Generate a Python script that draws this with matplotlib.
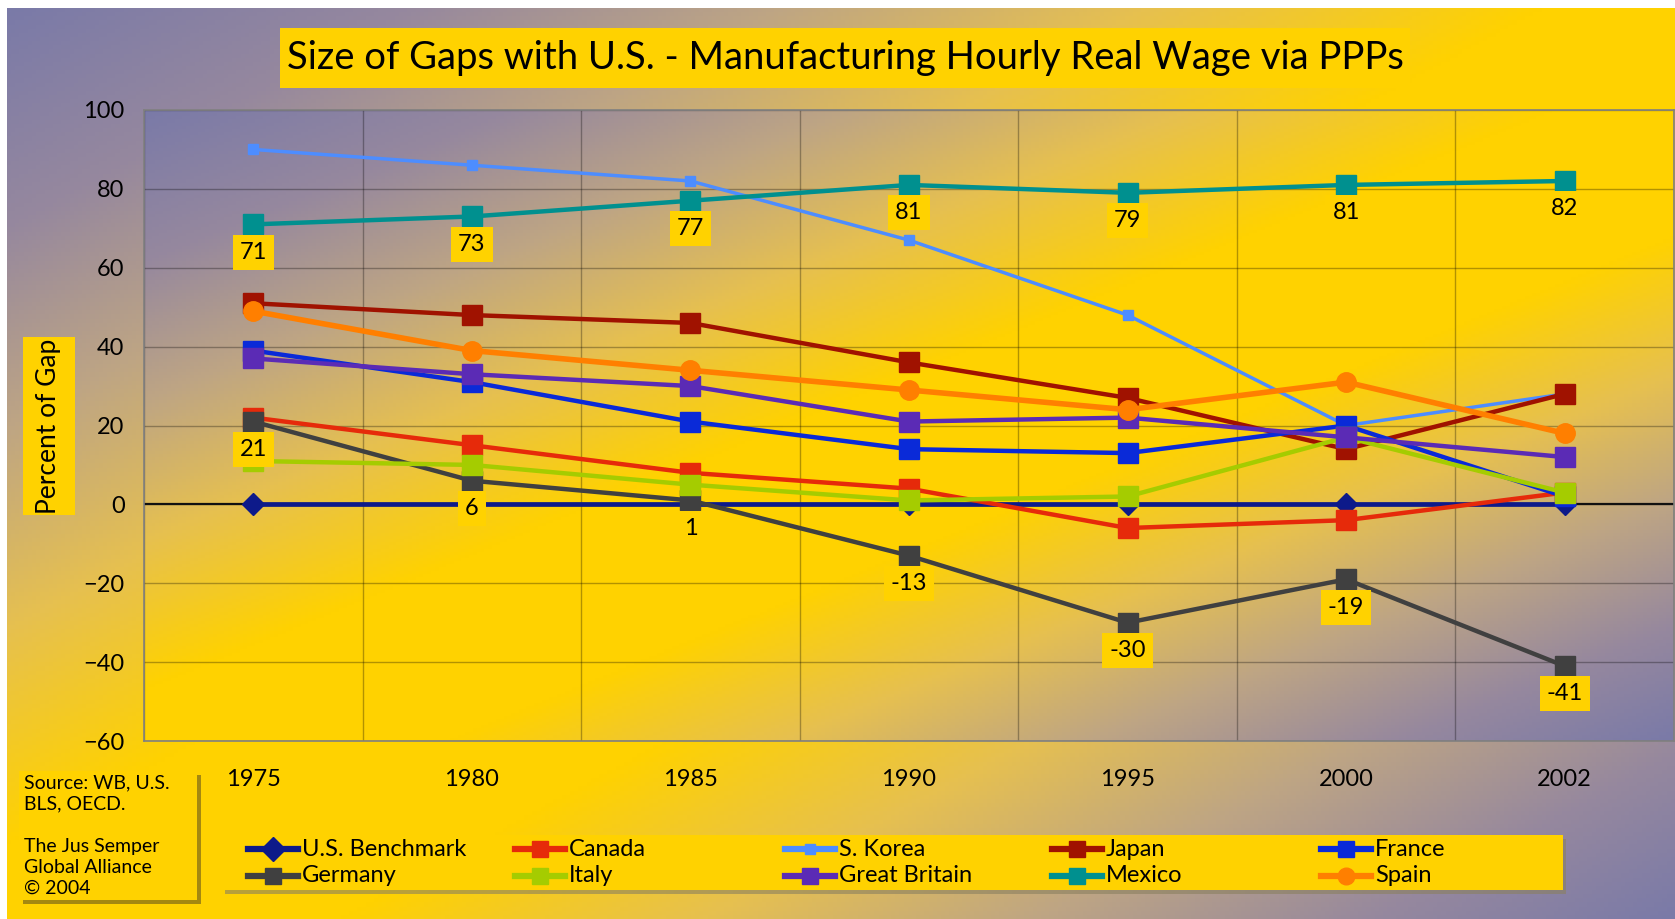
import numpy as np
import matplotlib.pyplot as plt
from matplotlib.lines import Line2D
from matplotlib.patches import Rectangle

plt.rcParams["font.family"] = ["Lato", "DejaVu Sans"]

# ---------------- data ----------------
years = ["1975", "1980", "1985", "1990", "1995", "2000", "2002"]

us_benchmark = [0, 0, 0, 0, 0, 0, 0]
canada = [22, 15, 8, 4, -6, -4, 3]
s_korea = [90, 86, 82, 67, 48, 20, 28]
japan = [51, 48, 46, 36, 27, 14, 28]
france = [39, 31, 21, 14, 13, 20, 2]
germany = [21, 6, 1, -13, -30, -19, -41]
italy = [11, 10, 5, 1, 2, 17, 3]
great_britain = [37, 33, 30, 21, 22, 17, 12]
mexico = [71, 73, 77, 81, 79, 81, 82]
spain = [49, 39, 34, 29, 24, 31, 18]

yticks = [-60, -40, -20, 0, 20, 40, 60, 80, 100]

# name, values, color, marker, markersize, linewidth
series = [
    ("U.S. Benchmark", us_benchmark, "#0d1a8a", "D", 11, 3.4),
    ("Canada", canada, "#e62a0a", "s", 14, 3.2),
    ("S. Korea", s_korea, "#4d8dff", "s", 7, 2.5),
    ("Japan", japan, "#a01200", "s", 14, 3.2),
    ("France", france, "#0a2ad8", "s", 14, 3.2),
    ("Germany", germany, "#404040", "s", 14, 3.2),
    ("Italy", italy, "#a5cc00", "s", 14, 3.2),
    ("Great Britain", great_britain, "#5b2bb5", "s", 14, 3.2),
    ("Mexico", mexico, "#00908f", "s", 14, 3.2),
    ("Spain", spain, "#ff7f00", "o", 14, 4.0),
]
labelled = ["Mexico", "Germany"]

YELLOW = "#ffd200"

# gradient colour stops (purple -> warm tan -> yellow -> tan -> purple)
grad_pos = [0.0, 0.12, 0.23, 0.34, 0.46, 0.6, 0.71, 0.81, 0.91, 1.0]
grad_rgb = np.array([
    [122, 122, 168], [150, 136, 158], [190, 165, 132], [230, 192, 80],
    [255, 210, 0], [255, 210, 0], [230, 192, 80], [190, 165, 132],
    [150, 136, 158], [122, 122, 168]]) / 255


def gradient(nx, ny):
    gx, gy = np.meshgrid(np.linspace(0, 1, nx), np.linspace(0, 1, ny))
    t = (gx + gy) / 2
    return np.dstack([np.interp(t, grad_pos, grad_rgb[:, c]) for c in range(3)])


# ---------------- figure + gradient background ----------------
fig = plt.figure(figsize=(16.75, 9.19), dpi=100)
fig.patch.set_facecolor("white")

W, H = 16.75 * 100, 9.19 * 100
bg = fig.add_axes([7 / W, 0, 1 - 7 / W, 1 - 8 / H], zorder=-10)
bg.imshow(gradient(400, 220), aspect="auto", extent=[0, 1, 1, 0])
bg.set_xlim(0, 1)
bg.set_ylim(1, 0)
bg.axis("off")

# ---------------- main axes ----------------
ax = fig.add_axes([144 / W, 1 - 741 / H, 1 - 145 / W, (741 - 110) / H])
ax.imshow(gradient(400, 200), aspect="auto", extent=[0, 1, 0, 1],
          transform=ax.transAxes, zorder=0)
x = np.arange(len(years))
ax.set_xlim(-0.5, len(years) - 0.5)
ax.set_ylim(-60, 100)
ax.set_yticks(yticks)
ax.set_xticks(x)
ax.set_xticklabels(years)
ax.tick_params(which="both", length=0)
ax.tick_params(axis="y", pad=14, labelsize=17)
ax.tick_params(axis="x", pad=20, labelsize=17)
for yt in yticks:
    ax.axhline(yt, color="black", alpha=0.3, lw=1, zorder=1)
for xv in np.arange(-0.5, len(years), 1):
    ax.axvline(xv, color="black", alpha=0.3, lw=1, zorder=1)
ax.axhline(0, color="#111111", lw=1.6, zorder=2)
for s in ["top", "right", "bottom", "left"]:
    ax.spines[s].set_color("#808080")
    ax.spines[s].set_linewidth(1.2)

for name, vals, color, marker, ms, lw in series:
    ax.plot(x, vals, color=color, marker=marker, markersize=ms, lw=lw,
            zorder=3, clip_on=False)
    if name in labelled:
        for xi, v in zip(x, vals):
            ax.annotate(str(v), (xi, v), xytext=(0, -20), textcoords="offset points",
                        ha="center", va="center", fontsize=17, zorder=5,
                        bbox=dict(boxstyle="square,pad=0.3", fc=YELLOW, ec="none"))

# ---------------- title ----------------
fig.patches.append(Rectangle((280 / W, 1 - 88 / H), 1130 / W, 60 / H,
                             transform=fig.transFigure, fc=YELLOW, ec="none"))
fig.text((280 + 1410) / 2 / W, 1 - 58 / H,
         "Size of Gaps with U.S. - Manufacturing Hourly Real Wage via PPPs",
         ha="center", va="center", fontsize=27.5)

# ---------------- y label ----------------
fig.patches.append(Rectangle((23 / W, 1 - 515 / H), 52 / W, 178 / H,
                             transform=fig.transFigure, fc=YELLOW, ec="none"))
fig.text(49 / W, 1 - 426 / H, "Percent of Gap", rotation=90, ha="center",
         va="center", fontsize=19)

# ---------------- source box ----------------
fig.patches.append(Rectangle((23 / W, 1 - 904 / H), 178 / W, 129 / H,
                             transform=fig.transFigure, fc="#4a4020", ec="none",
                             alpha=0.5))
fig.patches.append(Rectangle((19 / W, 1 - 900 / H), 178 / W, 129 / H,
                             transform=fig.transFigure, fc=YELLOW, ec="none"))
fig.text(24 / W, 1 - 774 / H,
         "Source: WB, U.S.\nBLS, OECD.\n\nThe Jus Semper\nGlobal Alliance\n\u00a9 2004",
         ha="left", va="top", fontsize=14, linespacing=1.3)

# ---------------- legend ----------------
fig.patches.append(Rectangle((225 / W, 1 - 894 / H), 1341 / W, 55 / H,
                             transform=fig.transFigure, fc="#8a8060", ec="none",
                             alpha=0.6))
fig.patches.append(Rectangle((222 / W, 1 - 890 / H), 1341 / W, 55 / H,
                             transform=fig.transFigure, fc=YELLOW, ec="none"))
col_x = [248, 515, 785, 1052, 1321]
row_y = [849, 876]
for i, (name, vals, color, marker, ms, lw) in enumerate(series):
    row, col = divmod(i, 5)
    x0 = col_x[col] / W
    y0 = 1 - row_y[row] / H
    fig.lines.append(Line2D([x0, x0 + 50 / W], [y0, y0], transform=fig.transFigure,
                            color=color, lw=4.5))
    fig.lines.append(Line2D([x0 + 25 / W], [y0], transform=fig.transFigure,
                            color=color, marker=marker, markersize=12 if ms > 8 else 7,
                            lw=0))
    fig.text(x0 + 54 / W, y0, name, ha="left", va="center", fontsize=17)

fig.savefig("out.png", dpi=100)
